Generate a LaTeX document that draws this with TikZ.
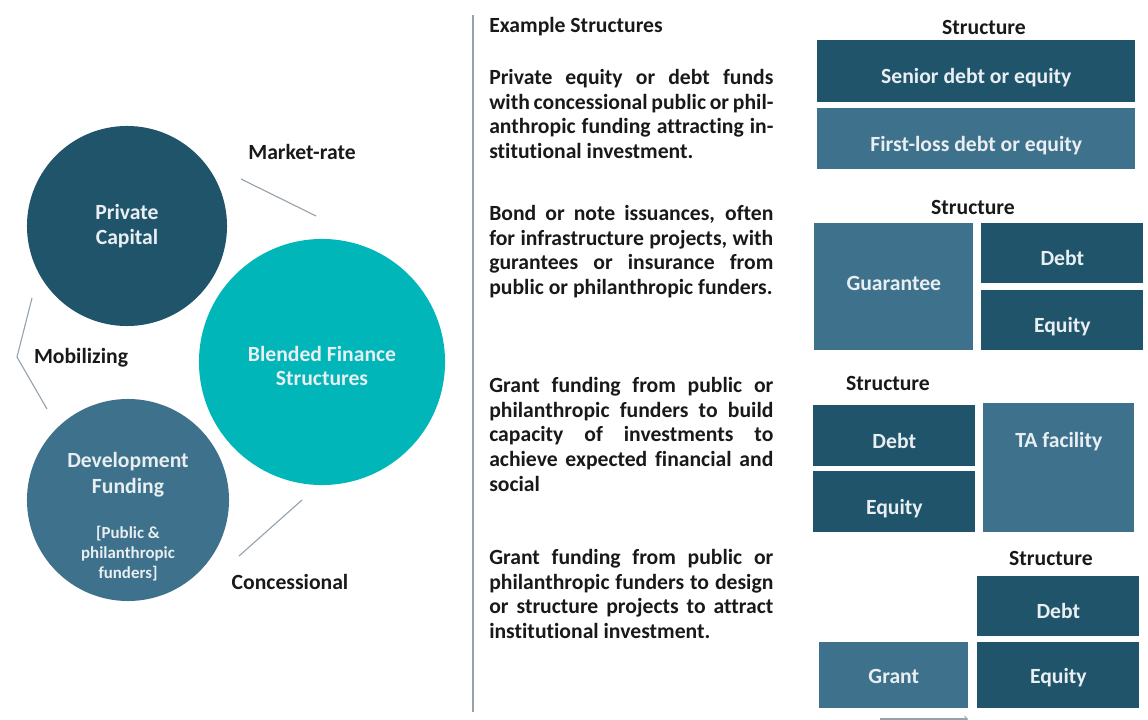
\documentclass[tikz,border=0pt]{standalone}
\usepackage{fontspec}
\setmainfont{Carlito}[Ligatures=NoCommon]
\usetikzlibrary{positioning}
\definecolor{deepteal}{RGB}{32,84,106}
\definecolor{slateteal}{RGB}{62,113,139}
\definecolor{brightteal}{RGB}{0,182,185}
\definecolor{linkgray}{RGB}{150,162,172}
\definecolor{tiletext}{RGB}{232,238,241}
\definecolor{inktext}{RGB}{25,25,25}
\newcommand{\parafont}{\bfseries\fontsize{15.4}{17.6}\selectfont}
\newcommand{\jline}[1]{\makebox[7.1cm][s]{#1}}

\begin{document}
\begin{tikzpicture}[x=0.025cm, y=-0.025cm,
  bubble/.style={circle, inner sep=0pt, align=center, text=tiletext, font=\parafont},
  link/.style={draw=linkgray, line width=0.8pt},
  caption/.style={text=inktext, font=\parafont, inner sep=0pt},
  para/.style={text=inktext, font=\parafont, inner sep=0pt, align=left, anchor=north west},
  tile/.style={inner sep=0pt, text=tiletext, font=\parafont, anchor=north west,
    text height=19.5pt, text depth=2.1pt},
  darktile/.style={tile, fill=deepteal},
  lighttile/.style={tile, fill=slateteal},
  wh/.style 2 args={minimum width=#1*0.025cm, minimum height=#2*0.025cm}]
\useasboundingbox (0,0) rectangle (1148,720);

\node[bubble, fill=deepteal, minimum size=5cm] (private) at (127,226) {Private\\Capital};
\node[bubble, fill=brightteal, minimum size=6.15cm] (blended) at (322,362) {};
\node[bubble] (blendedname) at (322,366) {Blended Finance\\Structures};
\node[bubble, fill=slateteal, minimum size=5.05cm] (devfund) at (128,500) {};
\node[bubble, font=\bfseries\fontsize{15.4}{18.2}\selectfont] (devname) at (128,475) {Development\\Funding};
\node[bubble, font=\bfseries\fontsize{12}{14.2}\selectfont] (devsub) at (128,554) {[Public \&\\philanthropic\\funders]};

\node[caption] (marketrate) at (302,152) {Market-rate};
\node[caption] (mobilizing) at (81,358) {Mobilizing};
\node[caption] (concessional) at (290,582) {Concessional};

\coordinate (mrA) at (241,179);
\coordinate (mrB) at (316,216);
\draw[link] (mrA) -- (mrB);
\coordinate (mbA) at (32,298);
\coordinate (mbB) at (17,357);
\coordinate (mbC) at (47,409);
\draw[link] (mbA) -- (mbB) -- (mbC);
\coordinate (csA) at (302,500);
\coordinate (csB) at (239,556);
\draw[link] (csA) -- (csB);

\coordinate (sepTop) at (473,15);
\coordinate (sepBot) at (473,712);
\draw[link, line width=1pt] (sepTop) -- (sepBot);

\node[caption, anchor=west] (heading) at (489,27) {Example Structures};

\node[para] (fundtext) at (489,69) {\jline{Private equity or debt funds}\\
  \jline{with concessional public or phil-}\\
  \jline{anthropic funding attracting in-}\\
  stitutional investment.};
\node[para] (bondtext) at (489,205) {\jline{Bond or note issuances, often}\\
  \jline{for infrastructure projects, with}\\
  \jline{gurantees or insurance from}\\
  public or philanthropic funders.};
\node[para] (capacitytext) at (489,377) {\jline{Grant funding from public or}\\
  \jline{philanthropic funders to build}\\
  \jline{capacity of investments to}\\
  \jline{achieve expected financial and}\\
  social};
\node[para] (designtext) at (489,549) {\jline{Grant funding from public or}\\
  \jline{philanthropic funders to design}\\
  \jline{or structure projects to attract}\\
  institutional investment.};

\node[caption] (structA) at (984,27) {Structure};
\node[darktile, wh={318}{62}] (senior) at (817,40) {Senior debt or equity};
\node[lighttile, wh={318}{61}] (firstloss) at (817,108) {First-loss debt or equity};

\node[caption] (structB) at (973,207) {Structure};
\node[lighttile, wh={159}{127}, text height=12pt, text depth=7.2pt] (guarantee) at (814,223) {Guarantee};
\node[darktile, wh={162}{60}] (debtA) at (981,223) {Debt};
\node[darktile, wh={162}{60}] (equityA) at (981,290) {Equity};

\node[caption] (structC) at (888,383) {Structure};
\node[darktile, wh={162}{61}] (debtB) at (813,405) {Debt};
\node[darktile, wh={162}{61}] (equityB) at (813,471) {Equity};
\node[lighttile, minimum width=151*0.025cm, text height=1.1cm, text depth=2.125cm] (tafacility) at (983,403) {TA facility};

\node[caption] (structD) at (1051,558) {Structure};
\node[darktile, wh={162}{60}] (debtC) at (977,576) {Debt};
\node[lighttile, wh={149}{66}, text height=14pt, text depth=2.8pt] (grant) at (819,642) {Grant};
\node[darktile, wh={162}{66}, text height=14pt, text depth=2.8pt] (equityC) at (977,642) {Equity};

\coordinate (flowA) at (880,719);
\coordinate (flowB) at (968,719);
\draw[link, ->] (flowA) -- (flowB);
\end{tikzpicture}
\end{document}
